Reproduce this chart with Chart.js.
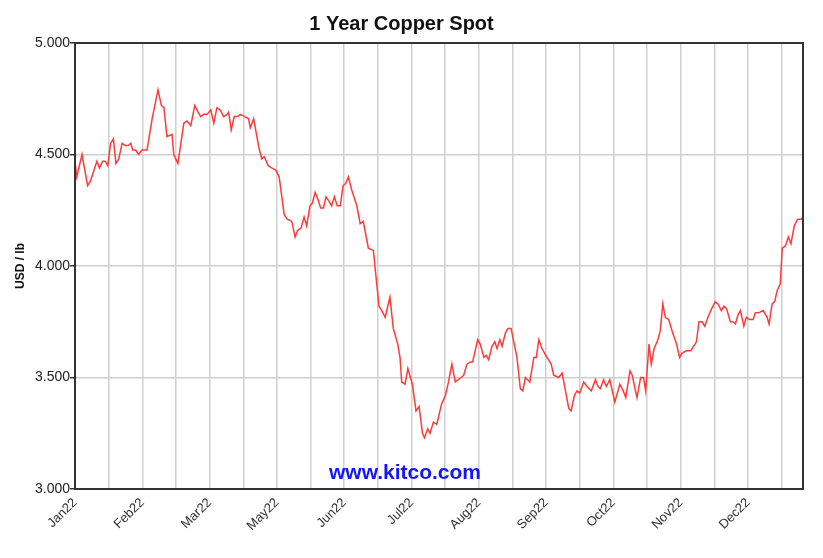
<!DOCTYPE html>
<html>
<head>
<meta charset="utf-8">
<title>1 Year Copper Spot</title>
<script src="https://cdn.jsdelivr.net/npm/chart.js@4.4.1/dist/chart.umd.min.js"></script>
<style>
  html, body { margin: 0; padding: 0; background: #fff; }
  #wrap { width: 823px; height: 558px; }
</style>
</head>
<body>
<div id="wrap"><canvas id="copperChart" width="823" height="558"></canvas></div>
<script>
// trading-day index (x) and spot price in USD/lb
const days = [
  0, 0.6, 2.5, 4.5, 5.5, 7.8, 8.7, 9.9, 10.8, 11.7, 12.7, 13.7, 14.6, 15.6, 16.8, 17.9, 18.9, 19.9, 20.6, 21.6,
  22.7, 23.9, 25.7, 27.5, 29.6, 30.8, 31.7, 32.8, 34.6, 35.2, 36.7, 38.8, 39.9, 41.3, 42.7, 43.9, 44.8, 45.9, 47.1, 48.4,
  49.5, 50.6, 51.8, 53.0, 54.2, 54.8, 55.7, 56.8, 58.0, 59.0, 60.5, 61.9, 62.5, 63.7, 65.6, 66.6, 67.5, 68.9, 70.1, 71.6,
  72.8, 74.6, 75.7, 77.3, 78.5, 79.4, 80.6, 81.7, 82.6, 83.8, 84.6, 85.6, 86.6, 87.6, 88.6, 89.5, 90.6, 91.5, 92.5, 93.5,
  94.6, 95.6, 96.5, 97.5, 98.7, 100.5, 101.7, 102.8, 104.6, 106.4, 108.4, 109.4, 110.6, 112.3, 113.5, 115.1, 115.9, 116.5, 117.7, 118.7,
  120.3, 121.6, 122.7, 123.9, 124.6, 125.8, 126.6, 127.8, 129.0, 130.7, 132.1, 133.2, 134.4, 135.6, 137.7, 138.6, 139.8, 141.0, 141.8, 143.6,
  144.5, 145.8, 146.6, 147.5, 148.7, 149.7, 150.5, 151.5, 152.3, 153.5, 154.4, 155.5, 157.6, 158.8, 159.7, 160.6, 162.2, 163.6, 164.5, 165.4,
  166.5, 168.3, 169.8, 170.7, 172.5, 173.7, 174.9, 176.1, 176.9, 178.1, 179.0, 180.0, 181.4, 182.6, 184.1, 185.6, 186.5, 187.3, 188.5, 189.5,
  190.7, 192.5, 194.3, 195.5, 196.4, 197.9, 198.7, 200.4, 201.7, 202.7, 203.5, 204.7, 205.5, 206.5, 207.9, 208.7, 209.6, 210.5, 211.7, 212.9,
  214.5, 215.6, 216.5, 218.0, 219.6, 221.6, 222.5, 223.6, 224.6, 225.7, 226.7, 228.3, 229.3, 230.5, 231.4, 232.3, 233.7, 234.6, 235.5, 236.4,
  237.3, 238.5, 239.4, 240.6, 241.8, 242.6, 243.8, 245.4, 246.8, 247.5, 248.6, 249.5, 250.4, 251.5, 252.2, 253.3, 254.4, 255.3, 256.5, 257.7,
  258.9, 259.6
];
const prices = [
  4.47, 4.40, 4.50, 4.36, 4.38, 4.47, 4.44, 4.47, 4.47, 4.45, 4.55, 4.57, 4.46, 4.48, 4.55, 4.54, 4.54, 4.55, 4.52, 4.52,
  4.50, 4.52, 4.52, 4.66, 4.79, 4.72, 4.71, 4.58, 4.59, 4.50, 4.46, 4.64, 4.65, 4.63, 4.72, 4.69, 4.67, 4.68, 4.68, 4.70,
  4.64, 4.71, 4.70, 4.67, 4.68, 4.69, 4.61, 4.67, 4.67, 4.68, 4.67, 4.66, 4.62, 4.66, 4.53, 4.48, 4.49, 4.45, 4.44, 4.43,
  4.40, 4.23, 4.21, 4.20, 4.13, 4.16, 4.17, 4.22, 4.18, 4.27, 4.28, 4.33, 4.30, 4.26, 4.26, 4.31, 4.29, 4.27, 4.31, 4.27,
  4.27, 4.36, 4.37, 4.40, 4.34, 4.27, 4.19, 4.20, 4.08, 4.07, 3.82, 3.80, 3.77, 3.86, 3.72, 3.65, 3.59, 3.48, 3.47, 3.54,
  3.47, 3.35, 3.37, 3.25, 3.23, 3.27, 3.25, 3.30, 3.29, 3.38, 3.42, 3.48, 3.56, 3.48, 3.50, 3.51, 3.56, 3.57, 3.57, 3.67,
  3.65, 3.59, 3.60, 3.58, 3.64, 3.66, 3.63, 3.67, 3.64, 3.70, 3.72, 3.72, 3.59, 3.45, 3.44, 3.50, 3.48, 3.59, 3.59, 3.67,
  3.63, 3.59, 3.56, 3.51, 3.50, 3.52, 3.44, 3.36, 3.35, 3.42, 3.44, 3.43, 3.48, 3.46, 3.44, 3.49, 3.46, 3.45, 3.49, 3.46,
  3.49, 3.39, 3.47, 3.44, 3.41, 3.53, 3.51, 3.41, 3.50, 3.50, 3.44, 3.65, 3.56, 3.63, 3.67, 3.71, 3.83, 3.77, 3.76, 3.71,
  3.65, 3.59, 3.61, 3.62, 3.62, 3.66, 3.75, 3.75, 3.73, 3.77, 3.80, 3.84, 3.83, 3.80, 3.82, 3.81, 3.75, 3.75, 3.74, 3.78,
  3.80, 3.73, 3.77, 3.76, 3.76, 3.79, 3.79, 3.80, 3.77, 3.74, 3.83, 3.84, 3.89, 3.92, 4.08, 4.09, 4.13, 4.10, 4.18, 4.21,
  4.21, 4.22
];

// x gridlines every 12 trading days, month label on every second one
const gridDays = [0, 12, 24, 36, 48, 60, 72, 84, 96, 108, 120, 132, 144, 156, 168, 180, 192, 204, 216, 228, 240, 252];
const monthLabels = ['Jan22', 'Feb22', 'Mar22', 'May22', 'Jun22', 'Jul22', 'Aug22', 'Sep22', 'Oct22', 'Nov22', 'Dec22'];
const yTicks = [3.0, 3.5, 4.0, 4.5, 5.0];

const points = days.map((d, i) => ({ x: d, y: prices[i] }));

// frame around plot + kitco watermark
const frame = {
    id: 'frame',
    beforeDatasetsDraw(chart) {
        const ctx = chart.ctx;
        ctx.save();
        ctx.font = 'bold 21px "Liberation Sans", Arial, sans-serif';
        ctx.fillStyle = '#1414ff';
        ctx.textAlign = 'center';
        ctx.textBaseline = 'middle';
        ctx.fillText('www.kitco.com', 405, 473);
        ctx.restore();
    },
    afterDatasetsDraw(chart) {
        const ctx = chart.ctx;
        const a = chart.chartArea;
        ctx.save();
        ctx.strokeStyle = '#333';
        ctx.lineWidth = 2;
        ctx.strokeRect(a.left, a.top, a.right - a.left, a.bottom - a.top);
        ctx.restore();
    }
};

new Chart(document.getElementById('copperChart'), {
    type: 'line',
    data: {
        datasets: [{
            data: points,
            borderColor: '#ff3a3a',
            borderWidth: 1.5,
            pointRadius: 0,
            tension: 0,
            fill: false
        }]
    },
    options: {
        responsive: false,
        animation: false,
        layout: { padding: { top: 0, right: 20, bottom: 0, left: 0 } },
        plugins: {
            legend: { display: false },
            tooltip: { enabled: false },
            title: {
                display: true,
                text: '1 Year Copper Spot',
                color: '#111',
                font: { family: '"Liberation Sans", Arial, sans-serif', size: 20, weight: 'bold' },
                padding: { top: 12, bottom: 7 }
            }
        },
        scales: {
            x: {
                type: 'linear',
                min: 0,
                max: 259.6,
                afterBuildTicks: (scale) => {
                    scale.ticks = gridDays.map(v => ({ value: v }));
                },
                afterFit: (scale) => { scale.height = 69; },
                grid: { color: '#d0d0d0', lineWidth: 1.5, drawTicks: false },
                border: { display: false },
                ticks: {
                    autoSkip: false,
                    minRotation: 45,
                    maxRotation: 45,
                    padding: 6,
                    color: '#333',
                    font: { family: '"Liberation Sans", Arial, sans-serif', size: 13 },
                    callback: (v) => (v % 24 === 0 ? monthLabels[v / 24] : '')
                }
            },
            y: {
                min: 3,
                max: 5,
                afterBuildTicks: (scale) => {
                    scale.ticks = yTicks.map(v => ({ value: v }));
                },
                afterFit: (scale) => { scale.width = 75; },
                grid: { color: '#d0d0d0', lineWidth: 1.5, tickLength: 5, tickColor: '#333' },
                border: { display: false },
                ticks: {
                    padding: 0,
                    color: '#222',
                    font: { family: '"Liberation Sans", Arial, sans-serif', size: 14 },
                    callback: (v) => v.toFixed(3)
                },
                title: {
                    display: true,
                    text: 'USD / lb',
                    color: '#111',
                    font: { family: '"Liberation Sans", Arial, sans-serif', size: 12, weight: 'bold' },
                    padding: { top: 13, bottom: 0 }
                }
            }
        }
    },
    plugins: [frame]
});
</script>
</body>
</html>
